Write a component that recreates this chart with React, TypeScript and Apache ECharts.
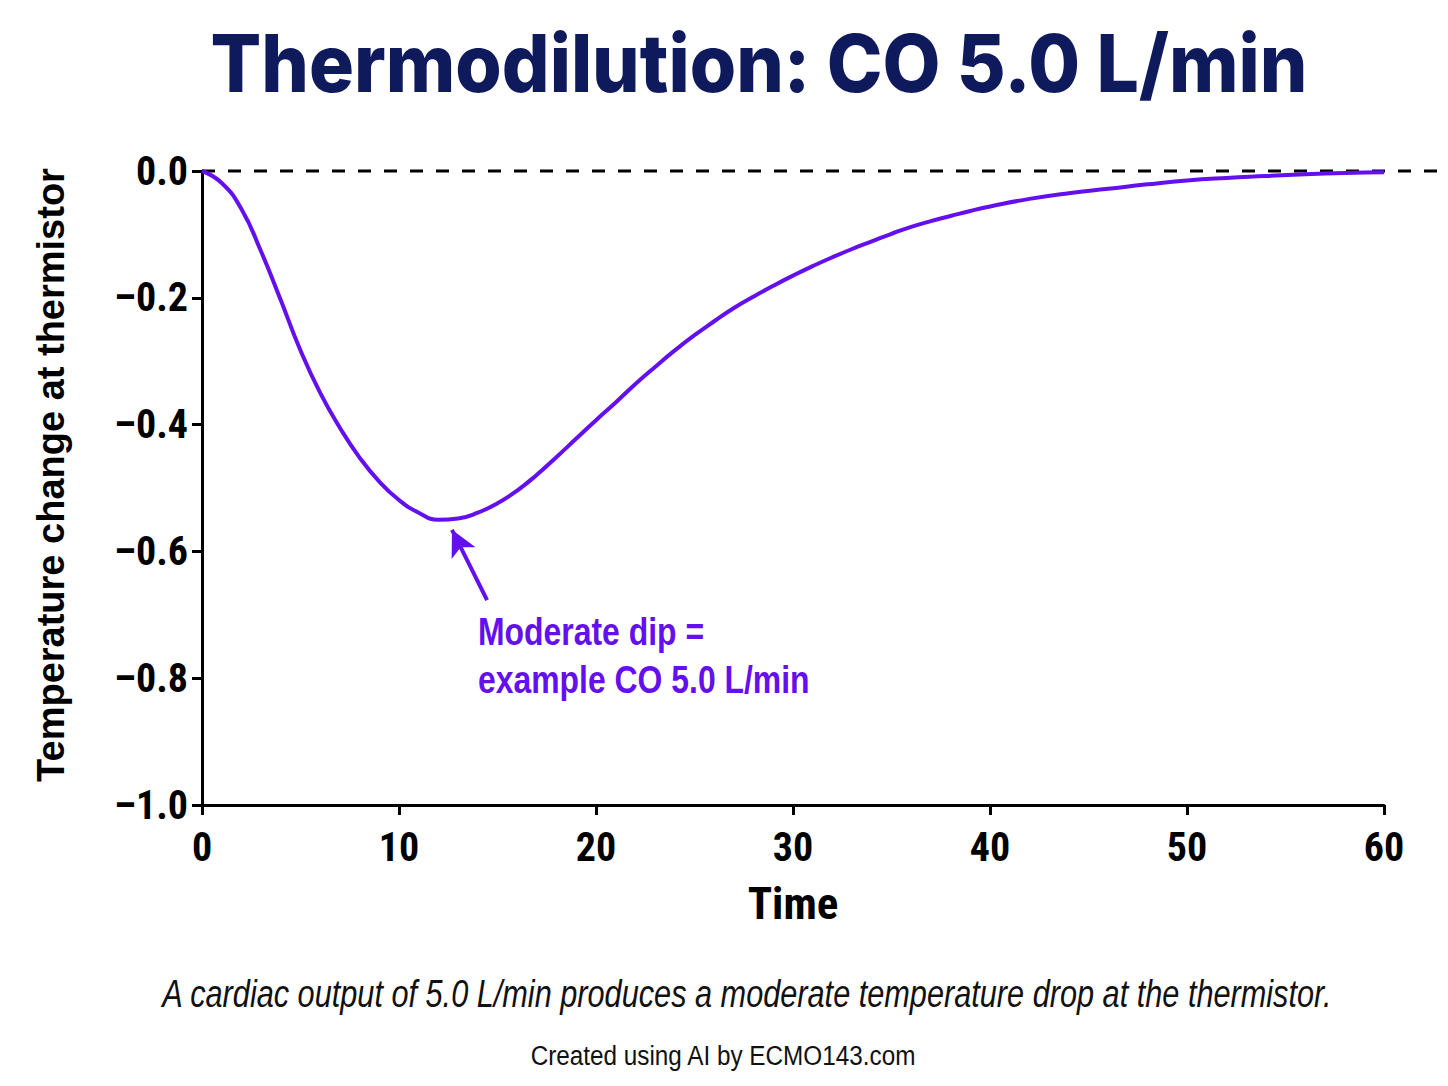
import React, { useEffect, useRef } from "react";
import * as echarts from "echarts";

const titleText = "Thermodilution: CO 5.0 L/min";
const yAxisName = "Temperature change at thermistor";
const xAxisName = "Time";
const annotationLines = ["Moderate dip =", "example CO 5.0 L/min"];
const captionText = "A cardiac output of 5.0 L/min produces a moderate temperature drop at the thermistor.";
const footerText = "Created using AI by ECMO143.com";

const times = [0, 1, 2, 3, 4, 5, 6, 7, 8, 9, 10, 11, 12, 13, 14, 15, 16, 17, 18, 19, 20, 21, 22, 23, 24, 25, 26, 27, 28, 29, 30, 31, 32, 33, 34, 35, 36, 37, 38, 39, 40, 42, 44, 46, 48, 50, 52, 54, 56, 58, 60];
const temps = [0, -0.019, -0.06, -0.127, -0.204, -0.283, -0.35, -0.405, -0.452, -0.49, -0.519, -0.539, -0.55, -0.548, -0.539, -0.524, -0.504, -0.479, -0.451, -0.422, -0.393, -0.365, -0.336, -0.309, -0.283, -0.259, -0.237, -0.216, -0.198, -0.181, -0.165, -0.15, -0.136, -0.123, -0.111, -0.099, -0.088, -0.079, -0.071, -0.063, -0.056, -0.044, -0.035, -0.028, -0.021, -0.015, -0.011, -0.008, -0.005, -0.003, -0.002];

// arrow: tail -> tip (data coordinates)
const arrowTail = [14.47, -0.677];
const arrowTip = [12.69, -0.566];

const purple = "#6410ee";
const navy = "#0f1a5c";
const narrow = "'Liberation Sans Narrow', 'Roboto Condensed', 'Noto Sans Condensed', Roboto, sans-serif";
const sans = "'Liberation Sans', Arial, sans-serif";

export default function App() {
  const ref = useRef<HTMLDivElement>(null);
  useEffect(() => {
    if (!ref.current) return;
    const chart = echarts.init(ref.current, undefined, { renderer: "svg" });
    const data = times.map((t, i) => [t, temps[i]]);
    chart.setOption({
      animation: false,
      backgroundColor: "#ffffff",
      grid: { left: 202, right: 64, top: 171, bottom: 281, containLabel: false },
      xAxis: {
        type: "value",
        min: 0,
        max: 60,
        interval: 10,
        name: xAxisName,
        nameLocation: "middle",
        nameGap: 76,
        nameTextStyle: { fontFamily: narrow, fontWeight: "bold", fontSize: 45, color: "#000" },
        axisLine: { show: true, onZero: false, lineStyle: { color: "#000", width: 3 } },
        axisTick: { show: true, length: 10, lineStyle: { color: "#000", width: 3 } },
        axisLabel: { margin: 22, fontFamily: narrow, fontWeight: "bold", fontSize: 40, color: "#000" },
        splitLine: { show: false },
      },
      yAxis: {
        type: "value",
        min: -1,
        max: 0,
        interval: 0.2,
        axisLine: { show: true, onZero: false, lineStyle: { color: "#000", width: 3 } },
        axisTick: { show: true, length: 10, lineStyle: { color: "#000", width: 3 } },
        axisLabel: {
          margin: 14,
          fontFamily: narrow,
          fontWeight: "bold",
          fontSize: 40,
          color: "#000",
          formatter: (v: number) => (v < -1e-9 ? "\u2013" : "") + Math.abs(v).toFixed(1),
        },
        splitLine: { show: false },
      },
      series: [
        {
          type: "line",
          data,
          smooth: true,
          showSymbol: false,
          lineStyle: { color: purple, width: 4 },
          z: 5,
          markLine: {
            silent: true,
            symbol: ["none", "arrow"],
            symbolSize: [20, 26],
            label: { show: false },
            lineStyle: { color: purple, width: 4, type: "solid" },
            data: [[{ coord: arrowTail }, { coord: arrowTip }]],
          },
        },
      ],
    });
    const p0 = chart.convertToPixel({ gridIndex: 0 }, [0, 0]) as number[];
    chart.setOption({
      graphic: [
        {
          type: "line",
          z: 1,
          shape: { x1: p0[0], y1: p0[1], x2: 1442, y2: p0[1] },
          style: { stroke: "#000", lineWidth: 3, lineDash: [13, 13] },
        },
        {
          type: "text",
          x: 759,
          y: 63,
          scaleX: 0.938,
          style: {
            text: titleText,
            fontFamily: "Inter, sans-serif",
            fontWeight: 800,
            fontSize: 80,
            fill: navy,
            textAlign: "center",
            textVerticalAlign: "middle",
          },
        },
        {
          type: "text",
          x: 51,
          y: 475,
          rotation: Math.PI / 2,
          style: {
            text: yAxisName,
            fontFamily: sans,
            fontWeight: "bold",
            fontSize: 38,
            fill: "#000",
            textAlign: "center",
            textVerticalAlign: "middle",
          },
        },
        {
          type: "text",
          x: 478,
          y: 631,
          scaleX: 0.84,
          style: {
            text: annotationLines[0],
            fontFamily: sans,
            fontWeight: "bold",
            fontSize: 38,
            fill: purple,
            textAlign: "left",
            textVerticalAlign: "middle",
          },
        },
        {
          type: "text",
          x: 478,
          y: 679,
          scaleX: 0.84,
          style: {
            text: annotationLines[1],
            fontFamily: sans,
            fontWeight: "bold",
            fontSize: 38,
            fill: purple,
            textAlign: "left",
            textVerticalAlign: "middle",
          },
        },
        {
          type: "text",
          x: 747,
          y: 993,
          scaleX: 0.787,
          style: {
            text: captionText,
            fontFamily: sans,
            fontStyle: "italic",
            fontSize: 39,
            fill: "#111",
            textAlign: "center",
            textVerticalAlign: "middle",
          },
        },
        {
          type: "text",
          x: 723,
          y: 1056,
          scaleX: 0.9,
          style: {
            text: footerText,
            fontFamily: sans,
            fontSize: 27,
            fill: "#111",
            textAlign: "center",
            textVerticalAlign: "middle",
          },
        },
      ],
    });
    return () => chart.dispose();
  }, []);
  return (
    <div
      ref={ref}
      style={{ position: "fixed", left: 0, top: 0, width: 1448, height: 1086, background: "#fff" }}
    />
  );
}
